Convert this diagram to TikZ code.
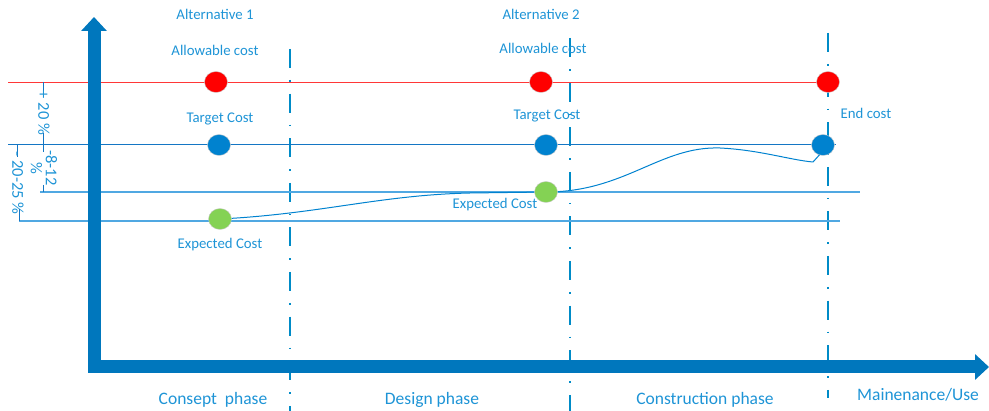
\documentclass[tikz,border=0pt]{standalone}
\usepackage{fontspec}
\setmainfont{Carlito}
\usetikzlibrary{arrows.meta,shapes.geometric}

\definecolor{axisblue}{RGB}{0,119,189}
\definecolor{txtblue}{RGB}{30,148,214}
\definecolor{dotblue}{RGB}{0,130,207}
\definecolor{dotgreen}{RGB}{132,210,84}
\definecolor{redline}{RGB}{255,55,55}
\definecolor{lineblue}{RGB}{20,118,196}
\definecolor{lightblue}{RGB}{80,168,226}

\tikzset{
  lbl/.style={text=txtblue, font=\fontsize{14.8}{16}\selectfont, inner sep=1pt},
  phaselbl/.style={lbl, font=\fontsize{17.5}{19}\selectfont},
  rangelbl/.style={lbl, rotate=-90, font=\fontsize{16.5}{15}\selectfont},
  dot/.style={ellipse, minimum width=23pt, minimum height=21pt, inner sep=0pt, draw=gray!40, line width=0.4pt},
  phaseline/.style={draw=axisblue!85!cyan, line width=2.6pt, dash pattern=on 19pt off 12pt on 1.6pt off 12pt},
  axis/.style={draw=axisblue, line width=13pt, -{Triangle[length=14pt,width=25pt]}},
  bracket/.style={draw=lineblue, line width=0.9pt},
}

\begin{document}
\begin{tikzpicture}[x=1pt,y=-1pt]
        \useasboundingbox (0,0) rectangle (989,411);

        % Cost levels
        \def\yall{82}
        \def\ytar{145}
        \def\yexa{192}
        \def\yexb{221}

        % Phase borders (dash-dot)
        \draw[phaseline] (290,49) -- (290,411);
        \draw[phaseline] (570,38) -- (570,411);
        \draw[phaseline] (828,33) -- (828,398);

        % Level lines
        \draw[draw=redline, line width=0.8pt] (8,\yall) -- (828,\yall);
        \draw[draw=lineblue, line width=1pt] (8,\ytar) -- (836,\ytar);
        \draw[draw=lightblue, line width=1.4pt] (40,\yexa) -- (860,\yexa);
        \draw[draw=lightblue, line width=1.4pt] (19,\yexb) -- (840,\yexb);

        % Cost development
        \draw[draw=dotblue, line width=1pt] (220,219) .. controls (320,214) and (380,195) .. (470,193)
              -- (546,192) .. controls (625,192) and (660,146) .. (720,148)
              .. controls (760,150) and (790,160) .. (813,162) -- (822,152);

        % Axes
        \draw[axis] (94,372) -- (94,17);
        \draw[axis] (88,367) -- (989,367);

        % Ranges at the left
        \draw[bracket] (43,\yall) -- (43,93);
        \node[rangelbl] (plus) at (44,113) {+ 20 \%};
        \draw[bracket] (43,133) -- (43,152);
        \node[rangelbl, align=center, inner sep=0pt] (minus) at (44,168) {-8-12\\\%};
        \draw[bracket] (43,185) -- (43,\yexa);
        \draw[bracket] (17,\ytar) -- (17,157);
        \node[rangelbl] (range) at (18,183) {- 20-25 \%};
        \draw[bracket] (19,209) -- (19,\yexb);

        % Alternative 1
        \node[dot, fill=red] (all1) at (216,\yall) {};
        \node[dot, fill=dotblue] (tar1) at (219,\ytar) {};
        \node[dot, fill=dotgreen] (exp1) at (220,219) {};
        \node[lbl] (alt1) at (215,14) {Alternative 1};
        \node[lbl] at (215,50) {Allowable cost};
        \node[lbl] at (220,119) {Target Cost};
        \node[lbl] at (220,245) {Expected Cost};

        % Alternative 2
        \node[dot, fill=red] (all2) at (541,\yall) {};
        \node[dot, fill=dotblue] (tar2) at (546,\ytar) {};
        \node[dot, fill=dotgreen] (exp2) at (546,192) {};
        \node[lbl] (alt2) at (541,14) {Alternative 2};
        \node[lbl] at (543,48) {Allowable cost};
        \node[lbl] at (547,116) {Target Cost};
        \node[lbl] at (495,205) {Expected Cost};

        % End values
        \node[dot, fill=red] (all3) at (828,\yall) {};
        \node[dot, fill=dotblue] (tar3) at (823,\ytar) {};
        \node[lbl] at (866,113) {End cost};

        % Phases
        \node[phaselbl] at (213,400) {Consept\ \ phase};
        \node[phaselbl] at (432,400) {Design phase};
        \node[phaselbl] at (705,400) {Construction phase};
        \node[phaselbl] at (918,395) {Mainenance/Use};
      \end{tikzpicture}
\end{document}
